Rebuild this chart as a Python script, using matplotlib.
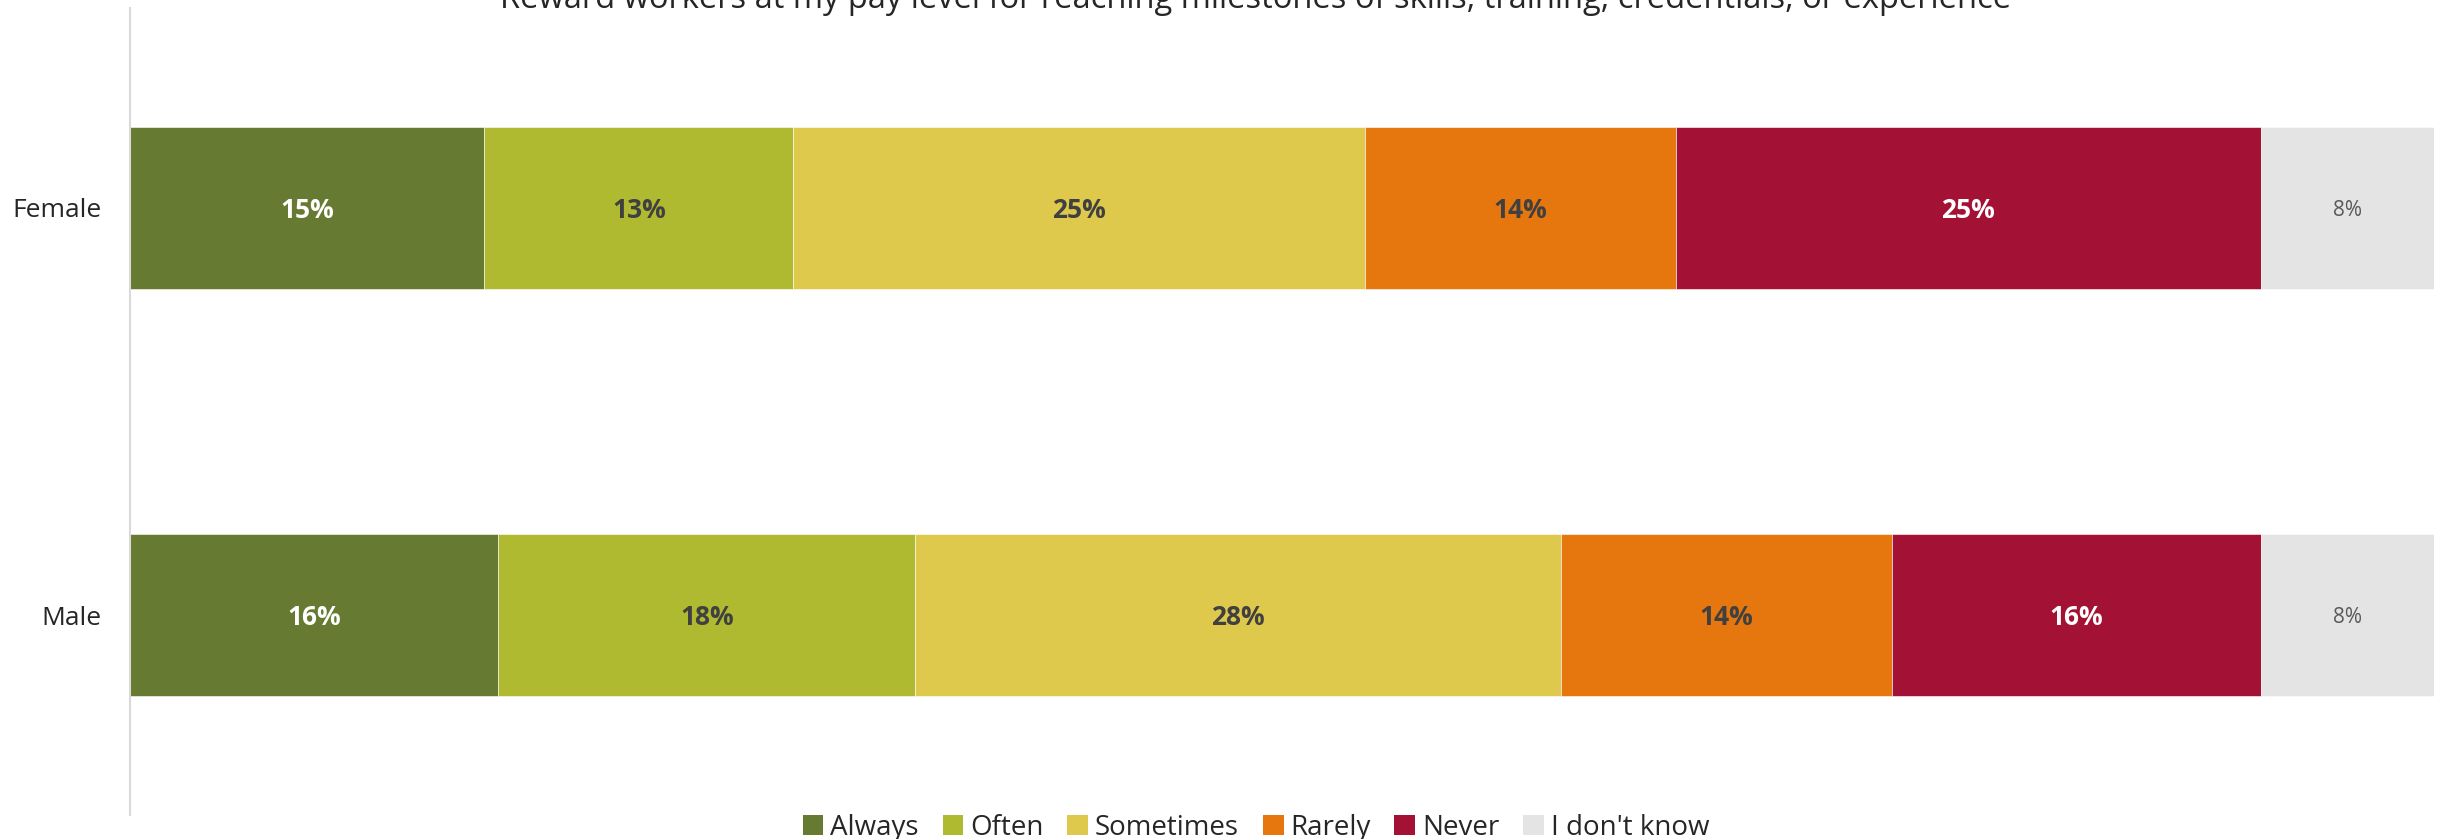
import numpy as np
import matplotlib
matplotlib.use("Agg")
import matplotlib.pyplot as plt
from matplotlib.patches import Patch

plt.rcParams['font.family'] = ['Liberation Sans Narrow', 'Open Sans', 'DejaVu Sans']

# data (percent)
groups = ['Male', 'Female']
answers = ['Always', 'Often', 'Sometimes', 'Rarely', 'Never', "I don't know"]
female = [15.4, 13.4, 24.8, 13.5, 25.4, 7.5]
male = [16.0, 18.1, 28.0, 14.4, 16.0, 7.5]
female_labels = ['15%', '13%', '25%', '14%', '25%', '8%']
male_labels = ['16%', '18%', '28%', '14%', '16%', '8%']
title = 'Reward workers at my pay level for reaching milestones of skills, training, credentials, or experience'

colors = ['#667A31', '#B0BA30', '#DFC94C', '#E6760E', '#A31134', '#E4E4E4']
label_colors = ['white', '#404040', '#404040', '#404040', 'white', '#595959']

fig = plt.figure(figsize=(24.46, 8.39), dpi=100)
ax = fig.add_axes([0.053, 0.029, 0.942, 0.961])

vals = np.array([male, female])
labels = [male_labels, female_labels]
y = np.arange(len(groups))
left = np.zeros(len(groups))
for i, ans in enumerate(answers):
    ax.barh(y, vals[:, i], left=left, height=0.398, color=colors[i],
            edgecolor='white', linewidth=0.4, label=ans)
    for j in range(len(groups)):
        if i == len(answers) - 1:
            fs, fw = 15, 'normal'
        else:
            fs, fw = 19, 'bold'
        ax.text(left[j] + vals[j, i] / 2, y[j] - 0.006, labels[j][i], ha='center', va='center',
                color=label_colors[i], fontsize=fs, fontweight=fw)
    left += vals[:, i]

ax.set_xlim(0, 100)
ax.set_ylim(-0.49, 1.49)
ax.set_yticks(y)
ax.set_yticklabels(groups, fontsize=19, color='#262626')
ax.set_xticks([])
ax.tick_params(axis='y', length=0, pad=20)
for s in ['top', 'right', 'bottom']:
    ax.spines[s].set_visible(False)
ax.spines['left'].set_color('#D9D9D9')
ax.spines['left'].set_linewidth(1.5)

fig.text(0.5135, 0.991, title, ha='center', va='baseline', fontsize=23.5, color='#262626')

handles = [Patch(facecolor=c, label=a) for c, a in zip(colors, answers)]
fig.legend(handles=handles, loc='lower center', bbox_to_anchor=(0.5135, -0.033), ncol=6,
           frameon=False, fontsize=20, handlelength=0.75, handleheight=0.75,
           handletextpad=0.25, columnspacing=0.85, labelcolor='#262626')

fig.savefig('out.png', dpi=100)
